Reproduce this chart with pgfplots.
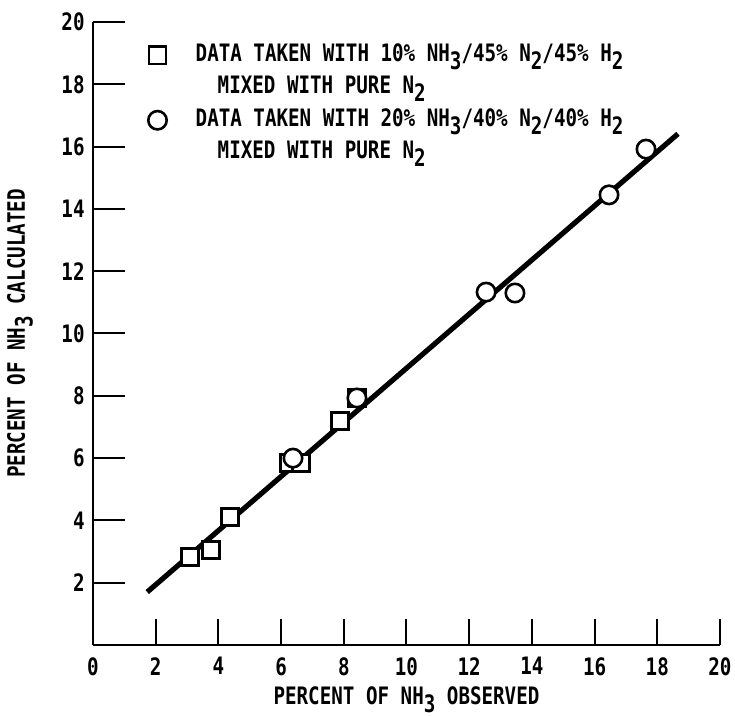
\documentclass[border=0pt]{standalone}
\usepackage{fontspec}
\setmainfont{DejaVu Sans Mono}[FakeStretch=0.80]
\usepackage{pgfplots}
\pgfplotsset{compat=1.18}

% monospaced lettering, lowered subscripts as on the original
\newcommand{\chartfont}{\fontsize{12}{14}\selectfont\bfseries}
\newcommand{\sub}[1]{\raisebox{-0.6ex}{#1}}

\begin{document}
\chartfont
\begin{tikzpicture}
  \begin{axis}[
      scale only axis,
      width=313.5pt,
      height=311.5pt,
      xmin=0, xmax=20,
      ymin=0, ymax=20,
      axis x line*=bottom,
      axis y line*=left,
      axis line style={line width=1.3pt},
      xtick={0,2,...,20},
      ytick={2,4,...,20},
      tick align=inside,
      xtick style={/pgfplots/major tick length=13pt},
      ytick style={/pgfplots/major tick length=16pt},
      tick style={line width=1pt, black},
      /pgf/number format/assume math mode=true,
      tick label style={font=\chartfont},
      xticklabel style={yshift=-2pt},
      xlabel={PERCENT OF NH\sub{3} OBSERVED},
      ylabel={PERCENT OF NH\sub{3} CALCULATED},
      label style={font=\chartfont},
      xlabel style={at={(axis description cs:0.5,0)}, anchor=center, yshift=-27.5pt},
      ylabel style={at={(axis description cs:-0.1164,0.5)}, anchor=center},
      clip=false,
      legend style={draw=none, fill=none, inner sep=0pt,
        at={(axis cs:1.5,19.33)}, anchor=north west,
        font=\chartfont,
        nodes={inner sep=0pt, text height=9pt, text depth=3pt},
        row sep=4.25pt, column sep=14.5pt},
      legend cell align=left,
    ]
    % fitted line
    \addplot[black, line width=2.6pt, forget plot] coordinates {
      (1.73,1.70) (18.66,16.41)
    };
    % 10% NH3 mixture
    \addplot[only marks, mark=square*, mark size=4.3pt,
      mark options={fill=white, draw=black, line width=1.3pt}, forget plot] coordinates {
      (3.09,2.83)
      (3.76,3.05)
      (4.37,4.11)
      (6.25,5.84)
      (6.63,5.84)
      (7.88,7.19)
      (8.42,7.93)
    };
    % 20% NH3 mixture
    \addplot[only marks, mark=*, mark size=4.6pt,
      mark options={fill=white, draw=black, line width=1.3pt}, forget plot] coordinates {
      (6.38,6.00)
      (8.42,7.93)
      (12.54,11.33)
      (13.46,11.30)
      (16.46,14.45)
      (17.64,15.92)
    };
    \addlegendimage{only marks, mark=square*, mark size=4.3pt,
      mark options={fill=white, draw=black, line width=1.3pt}}
    \addlegendentry{DATA TAKEN WITH 10\% NH\sub{3}/45\% N\sub{2}/45\% H\sub{2}}
    \addlegendimage{empty legend}
    \addlegendentry{\hspace*{11pt}MIXED WITH PURE N\sub{2}}
    \addlegendimage{only marks, mark=*, mark size=4.6pt,
      mark options={fill=white, draw=black, line width=1.3pt}}
    \addlegendentry{DATA TAKEN WITH 20\% NH\sub{3}/40\% N\sub{2}/40\% H\sub{2}}
    \addlegendimage{empty legend}
    \addlegendentry{\hspace*{11pt}MIXED WITH PURE N\sub{2}}
  \end{axis}
  \pgfresetboundingbox
  \path[use as bounding box] (-46.5pt,-36pt) rectangle (321pt,322.5pt);
\end{tikzpicture}
\end{document}
